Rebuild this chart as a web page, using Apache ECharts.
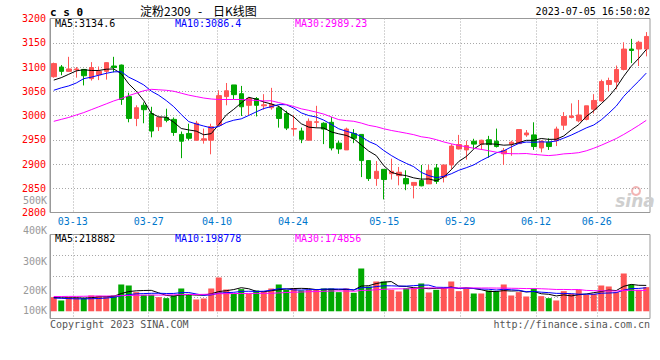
<!DOCTYPE html>
<html><head><meta charset="utf-8">
<script src="https://cdn.jsdelivr.net/npm/echarts@6/dist/echarts.min.js"></script>
<style>html,body{margin:0;padding:0;background:#fff}#c{width:660px;height:360px}</style>
</head><body><div id="c"></div>
<script>
const dates = ['03-08','03-09','03-10','03-13','03-14','03-15','03-16','03-17','03-20','03-21','03-22','03-23','03-24','03-27','03-28','03-29','03-30','03-31',
'04-03','04-04','04-06','04-07','04-10','04-11','04-12','04-13','04-14','04-17','04-18','04-19','04-20','04-21','04-24','04-25','04-26','04-27','04-28',
'05-04','05-05','05-08','05-09','05-10','05-11','05-12','05-15','05-16','05-17','05-18','05-19','05-22','05-23','05-24','05-25','05-26','05-29','05-30','05-31',
'06-01','06-02','06-05','06-06','06-07','06-08','06-09','06-12','06-13','06-14','06-15','06-16','06-19','06-20','06-21','06-26','06-27','06-28','06-29','06-30',
'07-03','07-04','07-05'];
const xTickLabels = ['03-13','03-27','04-10','04-24','05-15','05-29','06-12','06-26'];

const opens = [3080,3100,3091,3094,3095,3076,3084,3091,3102,3104, 3039,2994,3021,3004,2977,2996,2992,2961,2963,2949, 2949,2949,2980,3039,3063,3045,3021,3035,3020,3016, 3016,3004,2972,2968,2949,2986,2984,2986,2943,2929, 2963,2961,2907,2870,2889,2880,2876,2870,2856,2866, 2859,2892,2873,2898,2931,2929,2947,2941,2950,2947, 2921,2941,2942,2960,2960,2933,2945,2948,2980,2996, 2989,2992,3013,3030,3064,3069,3095,3137,3137,3137];
const closes = [3107,3091,3096,3096,3082,3099,3091,3109,3099,3033, 2994,3016,3012,2968,2996,2990,2965,2947,2953,2984, 2952,2977,3041,3051,3043,3018,3035,3021,3022,3023, 2994,2974,2973,2951,2988,2987,2972,2933,2931,2972, 2953,2907,2870,2885,2868,2885,2883,2859,2862,2855, 2887,2864,2898,2937,2940,2938,2941,2949,2940,2936, 2928,2945,2971,2964,2936,2947,2936,2972,2998,2999, 3001,3020,3031,3070,3072,3095,3137,3134,3151,3163];
const lows = [3078,3083,3090,3078,3062,3072,3073,3074,3089,3022, 2986,2978,2984,2955,2968,2986,2958,2912,2949,2948, 2942,2920,2979,3021,3034,2999,3001,2998,3012,3012, 2975,2970,2958,2943,2949,2975,2941,2928,2921,2929, 2943,2873,2865,2855,2827,2868,2856,2846,2829,2854, 2859,2859,2862,2890,2930,2909,2931,2929,2913,2934, 2898,2917,2941,2956,2929,2924,2929,2937,2970,2994, 2986,2990,3004,3029,3050,3054,3093,3108,3102,3122];
const highs = [3109,3104,3121,3100,3096,3110,3101,3110,3121,3105, 3047,3021,3027,3018,2996,3014,2996,2967,2983,2989, 2973,2983,3052,3067,3063,3061,3037,3038,3044,3057, 3020,3010,3001,2975,2994,3020,2986,2997,2948,2975, 2972,2961,2908,2906,2889,2911,2894,2887,2862,2898, 2898,2900,2898,2941,2960,2948,2952,2950,2958,2973, 2933,2948,2971,2970,2986,2949,2953,2977,3007,3025, 3032,3020,3044,3074,3078,3103,3151,3158,3154,3172];

const volumes = [119400,91300,119400,117000,111000,133500,130700,125100,133500,226500, 218000,161700,139200,139200,119400,111000,133500,192700,147600,99700, 108200,192700,285600,184200,147600,187000,147600,175800,167300,192700, 226500,181400,192700,175800,181400,184200,192700,192700,161700,192700, 156100,361700,209600,251800,251800,181400,167300,195500,198300,234900, 158900,181400,198300,251800,170100,189900,150400,150400,175800,170100, 226500,133500,161700,125100,192700,127900,111000,91300,170100,147600, 181400,139200,147600,218000,209600,161700,319400,226500,181400,204000];

// moving-average values before enough history is visible
const ma5Head = [3073,3078,3085,3092];
const ma10Head = [3052,3057,3061,3067,3076,3079,3083,3087,3090];
const ma30Head = [2988,2992,2996,3001,3006,3012,3018,3024,3030,3035, 3041,3046,3051,3054,3053,3052,3050,3046,3042,3039, 3036,3034,3033,3033,3033,3033,3032,3031,3030];
const volMa5Head = [116000,114000,113000,114000];
const volMa10Head = [112000,110000,107000,105000,105000,106000,108000,112000,118000];
const volMa30Head = [125000,125000,126000,126000,127000,128000,129000,129000,130000,132000, 134000,135000,136000,137000,137000,138000,139000,141000,142000,142000, 143000,145000,148000,149000,150000,150000,151000,151000,152000];

const priceLegend = ['MA5:3134.6','MA10:3086.4','MA30:2989.23'];
const volLegend = ['MA5:218882','MA10:198778','MA30:174856'];
const volTickLabels = ['500K','400K','300K','200K','100K'];
const titleParts = ['淀粉2309', '-', '日K线图'];
const symbolText = 'c s 0';
const timeText = '2023-07-05 16:50:02';
const copyText = 'Copyright 2023 SINA.COM';
const urlText = 'http://finance.sina.com.cn';

function movingAvg(src, n, head) {
  return src.map((_, i) => {
    if (i < n - 1) return head[i];
    let s = 0; for (let k = i - n + 1; k <= i; k++) s += src[k];
    return +(s / n).toFixed(2);
  });
}

const RED = '#ff5555', GREEN = '#00a800';
const MA_COLORS = ['#000000', '#0000ff', '#ff00ff'];
const MONO = '"DejaVu Sans Mono", monospace';
const CJK = '"Noto Sans CJK SC", sans-serif';
const GRID_C = '#a8a8a8';
const dotted = { show: true, lineStyle: { color: GRID_C, width: 1, type: [1, 2] } };
const tickSet = new Set(xTickLabels);

const candleData = dates.map((d, i) => [opens[i], closes[i], lows[i], highs[i]]);
const volData = volumes.map((v, i) => ({ value: v, itemStyle: { color: closes[i] >= opens[i] ? RED : GREEN } }));

const priceMAs = [movingAvg(closes, 5, ma5Head), movingAvg(closes, 10, ma10Head), movingAvg(closes, 30, ma30Head)];
const volMAs = [movingAvg(volumes, 5, volMa5Head), movingAvg(volumes, 10, volMa10Head), movingAvg(volumes, 30, volMa30Head)];

const P = { left: 50, top: 18.5, width: 600, height: 194 };
const V = { left: 50, top: 234.5, width: 600, height: 84 };

function txt(x, y, text, fill, font, align, extra) {
  return Object.assign({ type: 'text', x: x, y: y, silent: true,
    style: { text: text, fill: fill, font: font, align: align || 'left', verticalAlign: 'middle' } }, extra || {});
}

const graphics = [];
graphics.push(txt(50, 12, symbolText, '#000', 'bold 11px ' + MONO));
const titleX = [140, 198, 213];
titleParts.forEach((t, k) => graphics.push(txt(titleX[k], 10, t, '#000', '12px ' + CJK)));
graphics.push(txt(650, 11, timeText, '#000', '10px ' + MONO, 'right'));
const legX = [55, 175, 295];
priceLegend.forEach((t, k) => graphics.push(txt(legX[k], 23.7, t, MA_COLORS[k], '10px ' + MONO)));
volLegend.forEach((t, k) => graphics.push(txt(legX[k], 238.5, t, MA_COLORS[k], '10px ' + MONO)));
const volLabelY = [200, 230.5, 261, 290, 310];
volTickLabels.forEach((t, k) => graphics.push(txt(47, volLabelY[k], t, '#999', '10px ' + MONO, 'right')));
graphics.push(txt(50, 324.5, copyText, '#555', '10px ' + MONO));
graphics.push(txt(650, 324.5, urlText, '#555', '10px ' + MONO, 'right'));
graphics.push({ type: 'circle', shape: { cx: 636, cy: 191, r: 4 }, silent: true, style: { fill: 'none', stroke: '#f3b5b5', lineWidth: 2 } });
graphics.push(txt(635, 201, 'sina', '#cfcfcf', 'italic bold 17px "DejaVu Sans", sans-serif', 'center'));

const chart = echarts.init(document.getElementById('c'), null, { renderer: 'svg', width: 660, height: 360 });
chart.setOption({
  animation: false,
  backgroundColor: '#fff',
  grid: [
    Object.assign({ show: true, borderColor: '#999', borderWidth: 1, outerBoundsMode: 'none', containLabel: false }, P),
    Object.assign({ show: true, borderColor: '#999', borderWidth: 1, outerBoundsMode: 'none', containLabel: false }, V)
  ],
  xAxis: [
    { type: 'category', gridIndex: 0, data: dates, boundaryGap: true,
      axisLine: { show: false, onZero: false }, axisTick: { show: false }, axisLabel: { show: false }, splitLine: { show: false } },
    { type: 'category', gridIndex: 0, data: dates, boundaryGap: false, position: 'bottom',
      axisLine: { show: false, onZero: false }, axisTick: { show: false },
      axisLabel: { show: true, interval: (i, v) => tickSet.has(v),
        color: '#0077cc', fontFamily: MONO, fontSize: 10, margin: 4 },
      splitLine: Object.assign({ interval: (i, v) => tickSet.has(v) }, dotted) },
    { type: 'category', gridIndex: 1, data: dates, boundaryGap: true,
      axisLine: { show: false, onZero: false }, axisTick: { show: false }, axisLabel: { show: false }, splitLine: { show: false } },
    { type: 'category', gridIndex: 1, data: dates, boundaryGap: false, position: 'bottom',
      axisLine: { show: false, onZero: false }, axisTick: { show: false }, axisLabel: { show: false },
      splitLine: Object.assign({ interval: (i, v) => tickSet.has(v) }, dotted) }
  ],
  yAxis: [
    { type: 'value', gridIndex: 0, min: 2800, max: 3200, interval: 50, position: 'left',
      axisLine: { show: true, lineStyle: { color: '#999' } }, axisTick: { show: false },
      axisLabel: { color: '#ff0000', fontFamily: MONO, fontSize: 10, margin: 4, formatter: v => String(v) },
      splitLine: Object.assign({ showMinLine: false, showMaxLine: false }, dotted) },
    { type: 'value', gridIndex: 1, min: -61000, max: 649000, show: false,
      axisLine: { show: false }, axisLabel: { show: false }, splitLine: { show: false } },
    { type: 'value', gridIndex: 1, min: 0, max: 4, interval: 1, position: 'left',
      axisLine: { show: true, lineStyle: { color: '#999' } }, axisTick: { show: false }, axisLabel: { show: false },
      splitLine: Object.assign({ showMinLine: false, showMaxLine: false }, dotted) }
  ],
  graphic: graphics,
  series: [
    { type: 'candlestick', xAxisIndex: 0, yAxisIndex: 0, data: candleData, barWidth: 5,
      itemStyle: { color: RED, color0: GREEN, borderColor: RED, borderColor0: GREEN, borderWidth: 1 } },
    ...priceMAs.map((d, k) => ({ type: 'line', xAxisIndex: 0, yAxisIndex: 0, data: d, symbol: 'none', silent: true,
      lineStyle: { color: MA_COLORS[k], width: 1 } })),
    { type: 'bar', xAxisIndex: 2, yAxisIndex: 1, data: volData, barWidth: 6 },
    ...volMAs.map((d, k) => ({ type: 'line', xAxisIndex: 2, yAxisIndex: 1, data: d, symbol: 'none', silent: true,
      lineStyle: { color: MA_COLORS[k], width: 1 } }))
  ]
});
</script></body></html>
